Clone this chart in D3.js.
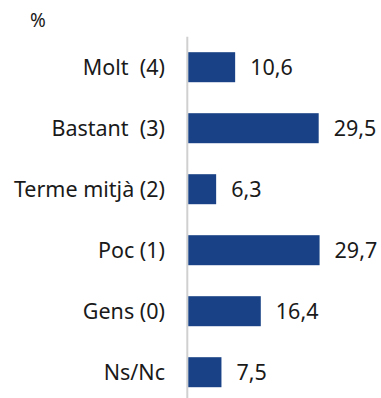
<!DOCTYPE html>
<html>
<head>
<meta charset="utf-8">
<script src="https://cdn.jsdelivr.net/npm/d3@7"></script>
<style>
  html, body { margin: 0; padding: 0; background: #fff; }
  svg { display: block; }
  text { font-family: "Noto Sans", "Open Sans", sans-serif; fill: #1a1a1a; }
</style>
</head>
<body>
<div id="chart"></div>
<script>
// Survey answers, top to bottom
const categories = ["Molt  (4)", "Bastant  (3)", "Terme mitjà (2)", "Poc (1)", "Gens (0)", "Ns/Nc"];
const values = [10.6, 29.5, 6.3, 29.7, 16.4, 7.5];
const unitLabel = "%";

const width = 381, height = 398;
const x0 = 188.3;

const svg = d3.select("#chart").append("svg")
  .attr("width", width)
  .attr("height", height);

const x = d3.scaleLinear().domain([0, 30]).range([x0, x0 + 30 * 4.42]);
const y = d3.scaleBand()
  .domain(categories)
  .range([36.7, 402.7])
  .paddingInner(0.508)
  .paddingOuter(0.254);

const fmt = v => d3.format(".1f")(v).replace(".", ",");

// vertical baseline axis
svg.append("line")
  .attr("x1", x0 - 1).attr("x2", x0 - 1)
  .attr("y1", 36.7).attr("y2", height)
  .attr("stroke", "#d0d0d0")
  .attr("stroke-width", 2);

// bars
svg.selectAll("rect.bar")
  .data(values)
  .join("rect")
  .attr("class", "bar")
  .attr("x", x(0))
  .attr("y", (d, i) => y(categories[i]))
  .attr("width", d => x(d) - x(0))
  .attr("height", y.bandwidth())
  .attr("fill", "#184285");

// category labels
svg.selectAll("text.cat")
  .data(categories)
  .join("text")
  .attr("class", "cat")
  .attr("x", 165)
  .attr("y", d => y(d) + y.bandwidth() / 2)
  .attr("dy", "0.36em")
  .attr("text-anchor", "end")
  .attr("font-size", 21.5)
  .style("white-space", "pre")
  .text(d => d);

// value labels
svg.selectAll("text.val")
  .data(values)
  .join("text")
  .attr("class", "val")
  .attr("x", d => x(d) + 15)
  .attr("y", (d, i) => y(categories[i]) + y.bandwidth() / 2)
  .attr("dy", "0.36em")
  .attr("font-size", 21.5)
  .text(d => fmt(d));

// unit label
svg.append("text")
  .attr("x", 30)
  .attr("y", 27)
  .attr("font-size", 19)
  .text(unitLabel);
</script>
</body>
</html>
